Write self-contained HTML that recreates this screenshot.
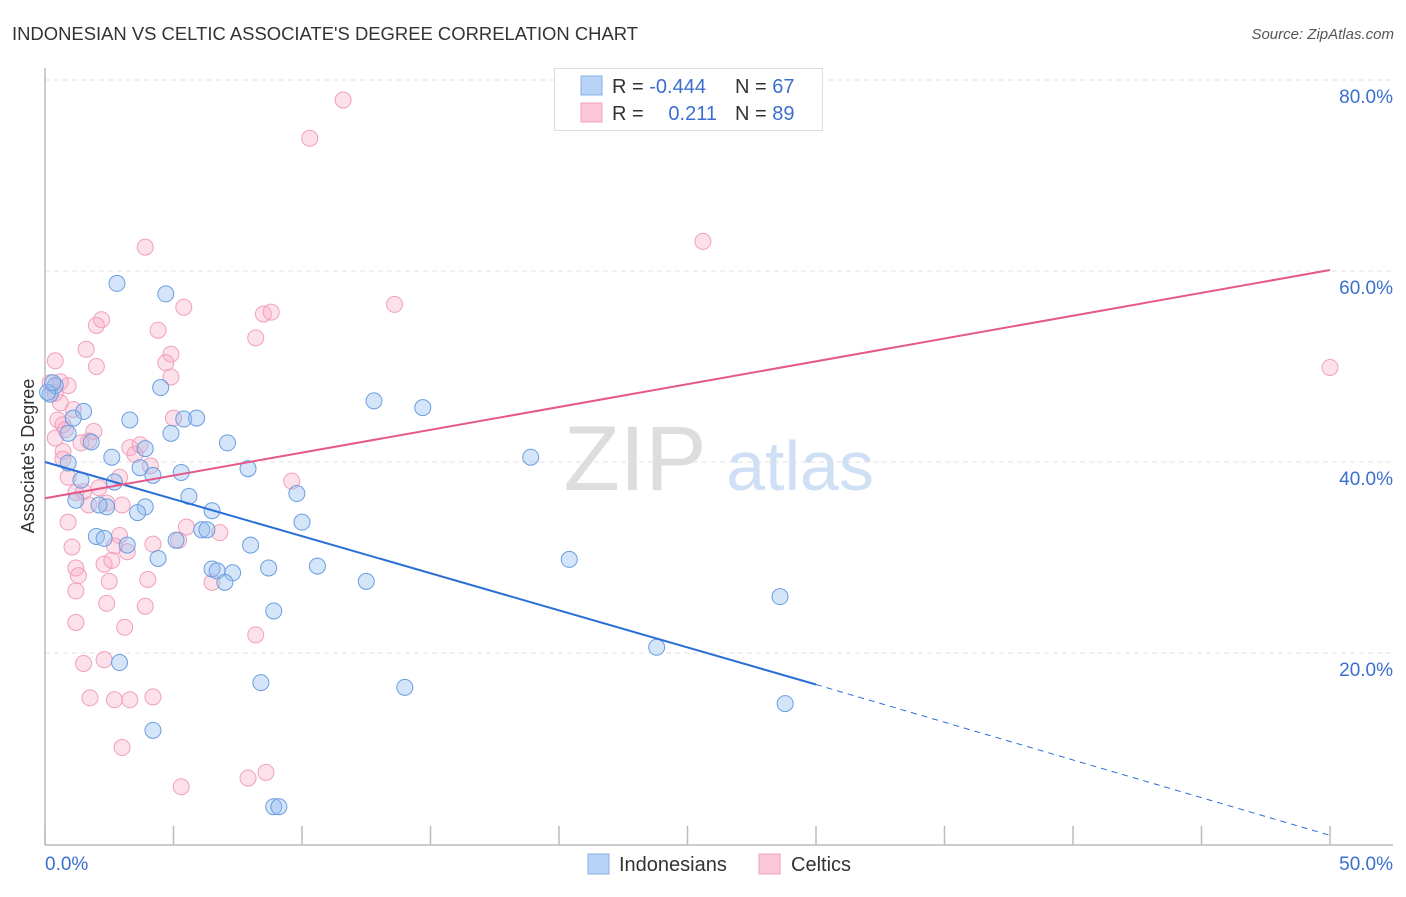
<!DOCTYPE html>
<html><head><meta charset="utf-8"><style>
body{margin:0;background:#fff;font-family:"Liberation Sans",sans-serif;}
svg text{font-family:"Liberation Sans",sans-serif;}
</style></head><body>
<svg width="1406" height="892" xmlns="http://www.w3.org/2000/svg">
<text x="12" y="40" font-size="18" fill="#333" textLength="626" lengthAdjust="spacingAndGlyphs">INDONESIAN VS CELTIC ASSOCIATE'S DEGREE CORRELATION CHART</text>
<text x="1394" y="39" font-size="15" fill="#555" text-anchor="end" font-style="italic">Source: ZipAtlas.com</text>
<g id="grid"></g>
<text x="635" y="490" font-size="92" fill="#ddd" font-family="Liberation Serif" text-anchor="middle">ZIP</text>
<text x="800" y="490" font-size="70" fill="#cfe0f5" text-anchor="middle">atlas</text>
<g id="axes"></g>
<g id="pts"></g>
<g id="lines"></g>
<text transform="translate(34,456) rotate(-90)" font-size="18" fill="#333" text-anchor="middle">Associate's Degree</text>
<g>
<rect x="554.5" y="68.5" width="268" height="62" fill="#fff" stroke="#ddd"/>
<rect x="581" y="76" width="21" height="19" fill="#b8d3f5" stroke="#86afe6"/>
<rect x="581" y="103" width="21" height="19" fill="#fcc8d8" stroke="#f0a0bb"/>
<text x="612" y="93" font-size="20" fill="#333">R = <tspan fill="#3b6fd0">-0.444</tspan></text>
<text x="735" y="93" font-size="20" fill="#333">N = <tspan fill="#3b6fd0">67</tspan></text>
<text x="612" y="120" font-size="20" fill="#333">R = </text>
<text x="717" y="120" font-size="20" fill="#3b6fd0" text-anchor="end">0.211</text>
<text x="735" y="120" font-size="20" fill="#333">N = <tspan fill="#3b6fd0">89</tspan></text>
</g>
<g>
<rect x="588" y="854" width="21" height="20" fill="#b8d3f5" stroke="#86afe6"/>
<text x="619" y="871" font-size="20" fill="#333">Indonesians</text>
<rect x="759" y="854" width="21" height="20" fill="#fcc8d8" stroke="#f0a0bb"/>
<text x="791" y="871" font-size="20" fill="#333">Celtics</text>
</g>
</svg>
<script>
const NS="http://www.w3.org/2000/svg";
const xTicks=[0,5,10,15,20,25,30,35,40,45,50];
const yTicks=[20,40,60,80];
const blueX=[2.8,4.7,4.5,3.3,5.4,5.9,1.5,1.1,0.9,1.8,7.1,3.9,4.9,2.6,0.9,3.7,4.2,5.3,7.9,18.9,12.8,14.7,2.7,1.4,1.2,5.6,9.8,3.9,3.6,2.4,2.1,6.5,10,2,2.3,3.2,5.1,6.1,6.3,8,4.4,20.4,6.5,6.7,7.3,7.0,8.7,10.6,12.5,8.9,28.6,23.8,2.9,8.4,14.0,28.8,4.2,8.9,9.1,0.2,0.4,0.1,0.3];
const blueY=[58.7,57.6,47.8,44.4,44.5,44.6,45.3,44.6,43.0,42.1,42.0,41.4,43.0,40.5,39.9,39.4,38.6,38.9,39.3,40.5,46.4,45.7,37.9,38.1,36.0,36.4,36.7,35.3,34.7,35.3,35.5,34.9,33.7,32.2,32.0,31.3,31.8,32.9,32.9,31.3,29.9,29.8,28.8,28.6,28.4,27.4,28.9,29.1,27.5,24.4,25.9,20.6,19.0,16.9,16.4,14.7,11.9,3.9,3.9,47.1,48.0,47.3,48.3];
const pinkX=[11.6,10.3,25.6,3.9,5.4,13.6,2.2,2,4.4,8.5,8.8,8.2,1.6,0.4,2,4.9,4.7,4.9,50,0.9,0.2,0.4,0.6,1.1,0.5,0.7,0.8,5,0.4,1.9,1.7,1.4,0.7,0.7,3.3,3.7,4.1,9.6,3.5,0.9,2.9,2.1,1.2,1.5,1.7,2.4,3,5.5,6.8,0.9,5.2,2.9,4.2,2.7,3.2,1.05,2.3,2.6,1.2,1.3,4,2.5,1.2,6.5,2.4,3.9,3.1,1.2,1.5,2.3,8.2,1.75,2.7,3.3,4.2,3,7.9,8.6,5.3,0.6];
const pinkY=[77.9,73.9,63.1,62.5,56.2,56.5,54.9,54.3,53.8,55.5,55.7,53,51.8,50.6,50,51.3,50.4,48.9,49.9,48,48.3,47.2,46.2,45.5,44.4,43.9,43.4,44.6,42.5,43.2,42.2,42,41.1,40.3,41.5,41.8,39.6,38,40.8,38.4,38.4,37.3,36.8,36.9,35.5,35.7,35.5,33.2,32.6,33.7,31.8,32.3,31.4,31.2,30.6,31.1,29.3,29.7,28.9,28.1,27.7,27.5,26.5,27.4,25.2,24.9,22.7,23.2,18.9,19.3,21.9,15.3,15.1,15.1,15.4,10.1,6.9,7.5,6,48.4];
const blueTrend=[0,40.0,30,16.7,50,0.9];
const pinkTrend=[0,36.2,50,60.1];
const X0=45,X1=1330,Y0=844,Y80=80;
const sx=v=>X0+(X1-X0)*v/50, sy=v=>Y0-(Y0-Y80)*v/80;
function mk(t,a,p){const e=document.createElementNS(NS,t);for(const k in a)e.setAttribute(k,a[k]);p.appendChild(e);return e;}
const grid=document.getElementById('grid'),axes=document.getElementById('axes');
yTicks.forEach(v=>{
 const l=mk('line',{x1:X0,x2:1393,y1:sy(v),y2:sy(v),stroke:'#e2e2e2','stroke-dasharray':'5,4'},grid);
 
 
 const t=mk('text',{x:1393,y:sy(v)+23,'font-size':19,fill:'#3b6fd0','text-anchor':'end'},axes);
 t.textContent=v.toFixed(1)+'%';
 
 
});
mk('line',{x1:X0,x2:X0,y1:68,y2:845,stroke:'#bbb','stroke-width':1.5},axes);
mk('line',{x1:X0,x2:1393,y1:845,y2:845,stroke:'#bbb','stroke-width':1.5},axes);
xTicks.forEach(v=>{
 const l=mk('line',{x1:sx(v),x2:sx(v),y1:826,y2:845,stroke:'#bbb','stroke-width':1.5},axes);
 
 
});
[[0,'start',45],[50,'end',1393]].forEach(([v,a,x])=>{
 const t=mk('text',{x:x,y:870,'font-size':19,fill:'#3b6fd0','text-anchor':a},axes);
 t.textContent=v.toFixed(1)+'%';
 
 
});
const pts=document.getElementById('pts');
pinkX.forEach((x,i)=>{
 const c=mk('circle',{cx:sx(x),cy:sy(pinkY[i]),r:8,fill:'rgba(248,170,195,0.35)',stroke:'#f0a0bb','stroke-width':1},pts);
 
 
});
blueX.forEach((x,i)=>{
 const c=mk('circle',{cx:sx(x),cy:sy(blueY[i]),r:8,fill:'rgba(150,190,240,0.4)',stroke:'#6a9de0','stroke-width':1},pts);
 
 
});
const lines=document.getElementById('lines');
let b=mk('line',{x1:sx(blueTrend[0]),y1:sy(blueTrend[1]),x2:sx(blueTrend[2]),y2:sy(blueTrend[3]),stroke:'#2a6fd6','stroke-width':2},lines);


b=mk('line',{x1:sx(blueTrend[2]),y1:sy(blueTrend[3]),x2:sx(blueTrend[4]),y2:sy(blueTrend[5]),stroke:'#2a6fd6','stroke-width':1,'stroke-dasharray':'6,5'},lines);


b=mk('line',{x1:sx(pinkTrend[0]),y1:sy(pinkTrend[1]),x2:sx(pinkTrend[2]),y2:sy(pinkTrend[3]),stroke:'#e5588a','stroke-width':2},lines);


</script>
</body></html>
